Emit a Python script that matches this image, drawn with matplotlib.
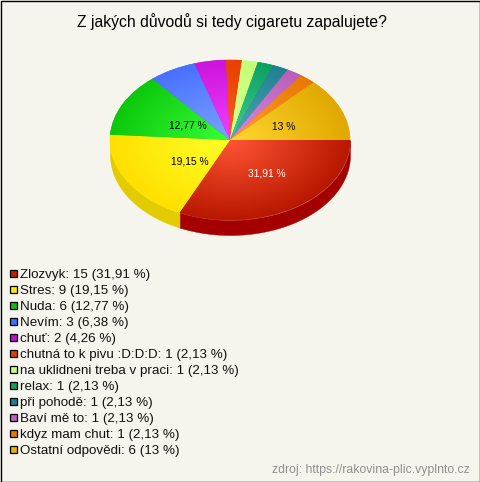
import numpy as np
import matplotlib
matplotlib.use("Agg")
import matplotlib.pyplot as plt
from matplotlib.patches import Rectangle

plt.rcParams['font.family'] = ['Liberation Sans', 'DejaVu Sans']

title = "Z jakých důvodů si tedy cigaretu zapalujete?"
categories = ["Zlozvyk", "Stres", "Nuda", "Nevím", "chuť", "chutná to k pivu :D:D:D",
              "na uklidneni treba v praci", "relax", "při pohodě", "Baví mě to",
              "kdyz mam chut", "Ostatní odpovědi"]
counts = [15, 9, 6, 3, 2, 1, 1, 1, 1, 1, 1, 6]
percent_text = ["31,91", "19,15", "12,77", "6,38", "4,26", "2,13",
                "2,13", "2,13", "2,13", "2,13", "2,13", "13"]
source = "zdroj: https://rakovina-plic.vyplnto.cz"

swatch = ['#C02000', '#FFE800', '#10C010', '#4070FF', '#C010D0', '#E04000',
          '#C8FF80', '#10A060', '#208090', '#C060C0', '#E87800', '#E8B000']
inner = ['#FF5535', '#FFFF28', '#38FF38', '#7CA4FF', '#F040FF', '#FF5A20',
         '#DCFF90', '#40D090', '#50A8B8', '#DC88E0', '#FFA030', '#FFD830']
outer = ['#B81800', '#FFE000', '#0CC80C', '#4870FF', '#CC14DC', '#E84000',
         '#C4FF78', '#0CA060', '#208090', '#B860B8', '#E87800', '#E0A800']
side = ['#A50000', '#E2CC00', '#0A8A0A', '#3050C0', '#900A9A', '#A83000',
        '#98C060', '#087848', '#186070', '#904890', '#B05800', '#B08800']

W, H = 480, 482
fig = plt.figure(figsize=(W / 100, H / 100), dpi=100, facecolor='#F5F5EE')
bg = fig.add_axes([0, 0, 1, 1])
bg.set_xlim(0, W)
bg.set_ylim(H, 0)
bg.axis('off')
bg.add_patch(Rectangle((0.5, 0.5), W - 1, H - 1, fc='none', ec='black', lw=1))

# Pie axes: centre (230,140), radii 120 x 80 px, 15 px depth
cx, cy, rx, ry, depth = 230, 140, 120, 80, 15
ax = fig.add_axes([(cx - rx) / W, 1 - (cy + ry + depth + 5) / H,
                   2 * rx / W, (2 * ry + depth + 5) / H])
wedges, _ = ax.pie(counts, colors=outer, startangle=0, counterclock=False, radius=1,
                   wedgeprops=dict(lw=0.4))
for w, c in zip(wedges, outer):
    w.set_edgecolor(c)

d = depth / ry
for w, c in zip(wedges, side):
    lo, hi = max(w.theta1, -180), min(w.theta2, 0)
    if hi > lo:
        t = np.radians(np.linspace(lo, hi, 200))
        ax.fill_between(np.cos(t), np.sin(t) - d, np.sin(t), color=c, lw=0.3, zorder=0.5)

gx, gy = np.meshgrid(np.linspace(-1, 1, 480), np.linspace(-1, 1, 320))
gr = np.clip(np.hypot(gx, gy), 0, 1)[..., None]
for w, ci, co in zip(wedges, inner, outer):
    a = np.array(matplotlib.colors.to_rgb(ci))
    b = np.array(matplotlib.colors.to_rgb(co))
    img = ax.imshow(a * (1 - gr) + b * gr, extent=(-1, 1, -1, 1), origin='lower',
                    aspect='auto', zorder=2, interpolation='bilinear')
    img.set_clip_path(w)
ax.set_aspect('auto')
ax.set_xlim(-1, 1)
ax.set_ylim(-1 - (depth + 5) / ry, 1)
ax.axis('off')

# Labels inside the pie
bg.set_zorder(3)
bg.patch.set_visible(False)
pie_labels = [(267, 173, 0, 'white'), (190, 161, 1, 'black'),
              (188, 125, 2, 'black'), (284, 127, 11, 'black')]
for x, y, i, col in pie_labels:
    bg.text(x, y, percent_text[i] + " %", ha='center', va='center', fontsize=7.4, color=col)

bg.text(232, 22, title, ha='center', va='center', fontsize=11.3, color='black')

for i, (name, n, p, c) in enumerate(zip(categories, counts, percent_text, swatch)):
    y = 274 + 16.0 * i
    bg.add_patch(Rectangle((9.5, y - 4.5), 7.5, 7.5, fc=c, ec='black', lw=0.9))
    bg.text(20, y + 1, f"{name}: {n} ({p} %)", ha='left', va='center', fontsize=9.65, color='#111111')

bg.text(470, 470.5, source, ha='right', va='center', fontsize=8.8, color='#909090')

fig.savefig('out.png', dpi=100, facecolor=fig.get_facecolor())
